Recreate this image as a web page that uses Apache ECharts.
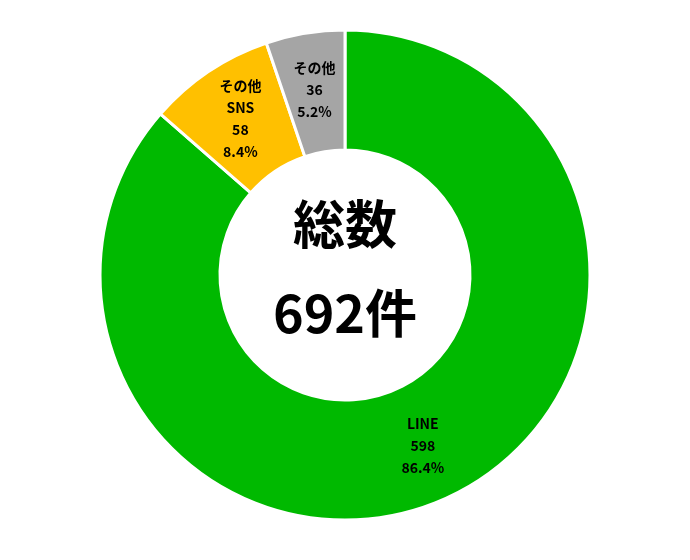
<!DOCTYPE html>
<html><head><meta charset="utf-8">
<script src="https://cdn.jsdelivr.net/npm/echarts@6/dist/echarts.min.js"></script>
<style>html,body{margin:0;padding:0;background:#fff}#c{width:690px;height:560px}</style>
</head><body><div id="c"></div>
<script>
const categories = ['LINE', 'その他\nSNS', 'その他'];
const values = [598, 58, 36];
const colors = ['#00B900', '#FFC000', '#A5A5A5'];
const totalLabel = '総数';
const totalValue = '692件';

const chart = echarts.init(document.getElementById('c'));
chart.setOption({
  backgroundColor: '#fff',
  animation: false,
  series: [{
    type: 'pie',
    center: [345, 275],
    radius: [125, 245],
    startAngle: 90,
    clockwise: true,
    percentPrecision: 1,
    avoidLabelOverlap: false,
    itemStyle: { borderColor: '#fff', borderWidth: 3 },
    label: {
      show: true,
      position: 'inside',
      formatter: p => p.name + '\n' + p.value + '\n' + p.percent.toFixed(1) + '%',
      color: '#000',
      fontSize: 14,
      fontWeight: 'bold',
      lineHeight: 22,
      fontFamily: '"Noto Sans CJK JP", sans-serif'
    },
    labelLine: { show: false },
    emphasis: { disabled: true },
    data: categories.map((n, i) => ({ name: n, value: values[i], itemStyle: { color: colors[i] } }))
  }],
  graphic: [
    { type: 'text', left: 'center', top: 198, style: { text: totalLabel, font: 'bold 52px "Noto Sans CJK JP", sans-serif', fill: '#000' } },
    { type: 'text', left: 'center', top: 287, style: { text: totalValue, font: 'bold 52px "Noto Sans CJK JP", sans-serif', fill: '#000' } }
  ]
});
</script></body></html>
